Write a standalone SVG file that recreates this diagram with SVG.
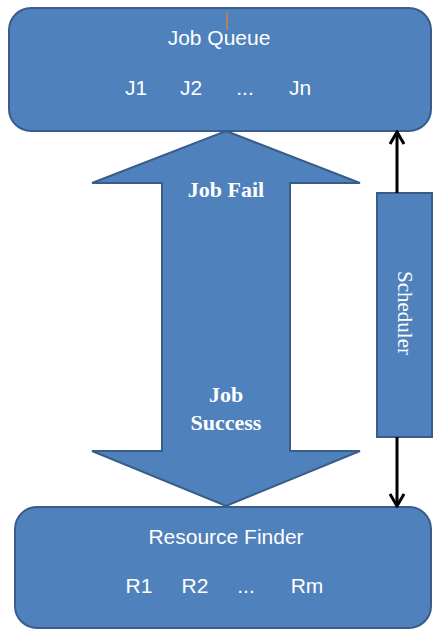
<svg xmlns="http://www.w3.org/2000/svg" width="433" height="629" viewBox="0 0 433 629">
<defs>
<style>
.box{fill:#4F81BD;stroke:#385D8A;stroke-width:2}
.sans{font-family:"Liberation Sans",Arial,sans-serif;font-size:21px;fill:#FFFFFF}
.serifb{font-family:"Liberation Serif","Times New Roman",serif;font-size:22px;font-weight:bold;fill:#FFFFFF}
.serif{font-family:"Liberation Serif","Times New Roman",serif;font-size:21px;fill:#FFFFFF}
.conn{stroke:#000000;stroke-width:3;fill:none}
</style>
<marker id="open" viewBox="0 0 16 16" refX="14" refY="8" markerWidth="16" markerHeight="16" markerUnits="userSpaceOnUse" orient="auto">
<path d="M2,1 L14,8 L2,15" fill="none" stroke="#000" stroke-width="3" stroke-linejoin="miter"/>
</marker>
</defs>
<rect width="433" height="629" fill="#FFFFFF"/>
<g id="job-queue">
<rect class="box" x="9" y="8" width="422" height="123" rx="22" ry="22"/>
<line x1="227" y1="12" x2="227" y2="30" stroke="#C8873F" stroke-width="1.5"/>
<text class="sans" x="219" y="45" text-anchor="middle">Job Queue</text>
<text class="sans" x="136" y="95" text-anchor="middle">J1</text>
<text class="sans" x="191" y="95" text-anchor="middle">J2</text>
<text class="sans" x="245" y="95" text-anchor="middle">...</text>
<text class="sans" x="300" y="95" text-anchor="middle">Jn</text>
</g>
<g id="double-arrow">
<polygon class="box" points="226,131 360,183 290,183 290,451 360,451 226,506 92,451 162,451 162,183 92,183"/>
<text class="serifb" x="226" y="197" text-anchor="middle">Job Fail</text>
<text class="serifb" x="226" y="402" text-anchor="middle">Job</text>
<text class="serifb" x="226" y="430" text-anchor="middle">Success</text>
</g>
<g id="scheduler">
<rect class="box" x="377" y="193" width="55" height="244"/>
<text class="serif" transform="translate(398,313) rotate(90)" text-anchor="middle">Scheduler</text>
</g>
<g id="resource-finder">
<rect class="box" x="15" y="507" width="416" height="121" rx="22" ry="22"/>
<text class="sans" x="226" y="544" text-anchor="middle">Resource Finder</text>
<text class="sans" x="139" y="593" text-anchor="middle">R1</text>
<text class="sans" x="195" y="593" text-anchor="middle">R2</text>
<text class="sans" x="246" y="593" text-anchor="middle">...</text>
<text class="sans" x="307" y="593" text-anchor="middle">Rm</text>
</g>
<g id="connectors">
<line class="conn" x1="397" y1="193" x2="397" y2="132" marker-end="url(#open)"/>
<line class="conn" x1="397" y1="437" x2="397" y2="506" marker-end="url(#open)"/>
</g>
</svg>
